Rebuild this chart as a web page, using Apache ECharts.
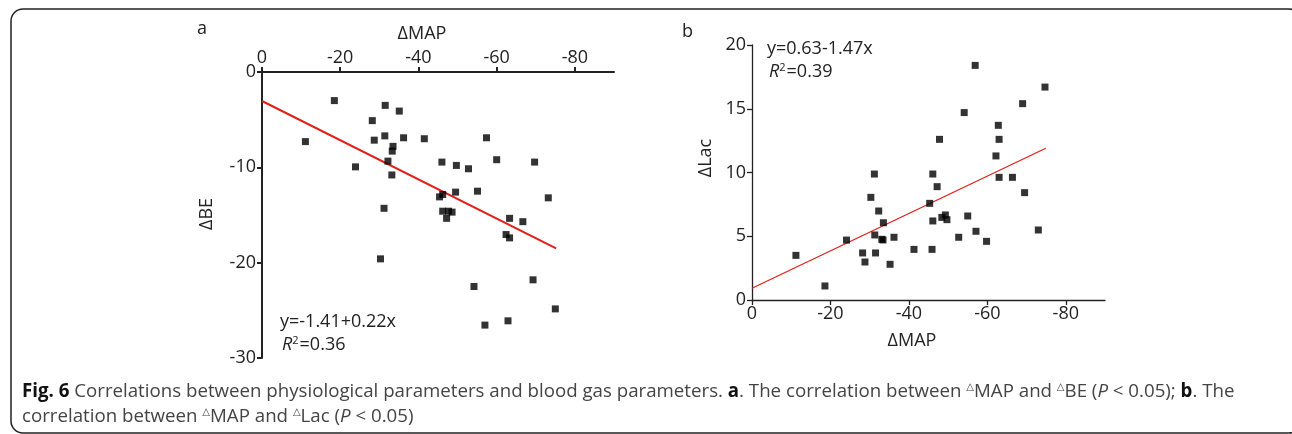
<!DOCTYPE html>
<html>
<head>
<meta charset="utf-8">
<script src="https://cdn.jsdelivr.net/npm/echarts@6/dist/echarts.min.js"></script>
<style>
html,body{margin:0;padding:0;background:#fff;}
#chart{width:1292px;height:434px;}
</style>
</head>
<body>
<div id="chart"></div>
<script>
// Panel a: ΔMAP vs ΔBE
var beX = [-18.5,-31.5,-35.1,-28.2,-11.1,-28.7,-31.4,-36.2,-41.5,-57.4,-33.5,-33.3,-32.2,-46,-49.7,-60,-69.7,-23.9,-33.2,-52.8,-31.2,-45.4,-46.2,-49.5,-55.1,-73.2,-46.2,-47.7,-48.6,-47.2,-63.3,-66.7,-62.4,-63.3,-30.3,-69.3,-54.2,-75,-57,-62.9];
var beY = [-3.0,-3.5,-4.1,-5.1,-7.3,-7.15,-6.7,-6.9,-7.0,-6.9,-7.8,-8.3,-9.35,-9.45,-9.8,-9.2,-9.45,-9.95,-10.8,-10.15,-14.3,-13.1,-12.85,-12.6,-12.5,-13.2,-14.6,-14.6,-14.7,-15.35,-15.35,-15.7,-17.05,-17.4,-19.6,-21.8,-22.5,-24.85,-26.55,-26.1];
var fitAX = [0, -75.2];
var fitAY = [-3.04, -18.5];
// Panel b: ΔMAP vs ΔLac
var lacX = [-56.9,-74.7,-69,-54.1,-62.8,-47.8,-63,-62.2,-31.2,-46.1,-63,-66.4,-47.2,-69.5,-30.3,-45.3,-32.3,-49.3,-48.4,-49.7,-46.1,-55,-33.5,-57.1,-73,-31.3,-24.1,-33.1,-33.4,-36.2,-52.7,-59.8,-41.3,-45.9,-28.2,-31.5,-11.2,-28.8,-35.2,-18.6];
var lacY = [18.4,16.7,15.4,14.7,13.7,12.6,12.6,11.3,9.88,9.88,9.62,9.62,8.89,8.42,8.05,7.58,6.98,6.67,6.48,6.3,6.2,6.59,6.06,5.39,5.49,5.1,4.7,4.76,4.71,4.92,4.92,4.6,3.97,3.97,3.69,3.69,3.5,2.98,2.8,1.1];
var fitBX = [0, -74.9];
var fitBY = [0.92, 11.9];
// tick labels
var mapTicks = [0, -20, -40, -60, -80];
var beTicks = [0, -10, -20, -30];
var lacTicks = [0, 5, 10, 15, 20];

function pairs(xs, ys){ return xs.map(function(x,i){return [x, ys[i]];}); }

var FONT = 'Open Sans';
var TXT = '#222';
var CAP = 'Open Sans';
var CS = 18.7;
var chart = echarts.init(document.getElementById('chart'), null, {renderer:'canvas'});

function xAx(gridIndex, pos, width, tickLen, margin){
  return {
    type:'value', gridIndex:gridIndex, position:pos, inverse:true, min:-90, max:0,
    axisLine:{show:true, onZero:false, lineStyle:{color:'#222', width:width}},
    axisTick:{show:true, length:tickLen, customValues:mapTicks, lineStyle:{color:'#222', width:width}},
    axisLabel:{show:true, customValues:mapTicks, margin:margin, color:TXT, fontFamily:FONT, fontSize:18},
    splitLine:{show:false}
  };
}

var option = {
  animation:false,
  backgroundColor:'#fff',
  grid:[
    {left:262, top:72, width:352, height:286},
    {left:752, top:45, width:353, height:255}
  ],
  xAxis:[
    xAx(0,'top',2,5,5),
    xAx(1,'bottom',1.3,5,5)
  ],
  yAxis:[
    {type:'value', gridIndex:0, min:-30, max:0, interval:10,
     axisLine:{show:true, onZero:false, lineStyle:{color:'#222', width:2}},
     axisTick:{show:true, length:5, lineStyle:{color:'#222', width:2}},
     axisLabel:{margin:6, color:TXT, fontFamily:FONT, fontSize:18, customValues:beTicks},
     splitLine:{show:false}},
    {type:'value', gridIndex:1, min:0, max:20, interval:5,
     axisLine:{show:true, onZero:false, lineStyle:{color:'#222', width:1.3}},
     axisTick:{show:true, length:5, lineStyle:{color:'#222', width:1.3}},
     axisLabel:{margin:6, color:TXT, fontFamily:FONT, fontSize:18, customValues:lacTicks},
     splitLine:{show:false}}
  ],
  series:[
    {type:'line', xAxisIndex:0, yAxisIndex:0, data:pairs(fitAX, fitAY), symbol:'none',
     lineStyle:{color:'#e0201c', width:2}, z:2},
    {type:'scatter', xAxisIndex:0, yAxisIndex:0, data:pairs(beX, beY), symbol:'rect', symbolSize:7,
     itemStyle:{color:'#000'}, z:3},
    {type:'line', xAxisIndex:1, yAxisIndex:1, data:pairs(fitBX, fitBY), symbol:'none',
     lineStyle:{color:'#e0201c', width:1.3}, z:2},
    {type:'scatter', xAxisIndex:1, yAxisIndex:1, data:pairs(lacX, lacY), symbol:'rect', symbolSize:7,
     itemStyle:{color:'#000'}, z:3}
  ],
  graphic:[
    {type:'rect', shape:{x:11, y:9, width:1290, height:424, r:12}, silent:true,
     style:{fill:null, stroke:'#222', lineWidth:1.5}},
    {type:'text', left:197, top:20, style:{text:'a', font:'18px "Open Sans"', fill:TXT}},
    {type:'text', left:682, top:23, style:{text:'b', font:'18px "Open Sans"', fill:TXT}},
    {type:'text', x:422, y:34, style:{text:'ΔMAP', font:'18px "Open Sans"', fill:TXT, align:'center', verticalAlign:'middle'}},
    {type:'text', x:912, y:341, style:{text:'ΔMAP', font:'18px "Open Sans"', fill:TXT, align:'center', verticalAlign:'middle'}},
    {type:'text', x:207, y:214, rotation:Math.PI/2, style:{text:'ΔBE', font:'18px "Open Sans"', fill:TXT, align:'center', verticalAlign:'middle'}},
    {type:'text', x:706, y:158, rotation:Math.PI/2, style:{text:'ΔLac', font:'18px "Open Sans"', fill:TXT, align:'center', verticalAlign:'middle'}},
    {type:'text', x:280, y:322, style:{text:'y=-1.41+0.22x', font:'18px "Open Sans"', fill:TXT, verticalAlign:'middle'}},
    {type:'text', x:282, y:345, style:{text:'{i|R}{s|2}=0.36', fill:TXT, verticalAlign:'middle',
      rich:{i:{fontFamily:FONT, fontSize:18, fontStyle:'italic', fill:TXT}, s:{fontFamily:FONT, fontSize:11, verticalAlign:'top', fill:TXT, padding:[0,1,8,0]}}, font:'18px "Open Sans"'}},
    {type:'text', x:767, y:49, style:{text:'y=0.63-1.47x', font:'18px "Open Sans"', fill:TXT, verticalAlign:'middle'}},
    {type:'text', x:769, y:72, style:{text:'{i|R}{s|2}=0.39', fill:TXT, verticalAlign:'middle',
      rich:{i:{fontFamily:FONT, fontSize:18, fontStyle:'italic', fill:TXT}, s:{fontFamily:FONT, fontSize:11, verticalAlign:'top', fill:TXT, padding:[0,1,8,0]}}, font:'18px "Open Sans"'}},
    {type:'text', x:22, y:392, style:{
      text:'{b|Fig. 6} Correlations between physiological parameters and blood gas parameters. {b|a}. The correlation between {t|△}MAP and {t|△}BE ({i|P} < 0.05); {b|b}. The',
      font:CS+'px "Open Sans"', fill:'#444', verticalAlign:'middle',
      rich:{b:{fontFamily:CAP, fontSize:CS, fontWeight:'bold', fill:'#111'},
            i:{fontFamily:CAP, fontSize:CS, fontStyle:'italic', fill:'#444'},
            t:{fontFamily:'DejaVu Sans', fontSize:10, fill:'#444', verticalAlign:'top', padding:[0,0,7,0]}}}},
    {type:'text', x:22, y:417, style:{
      text:'correlation between {t|△}MAP and {t|△}Lac ({i|P} < 0.05)',
      font:CS+'px "Open Sans"', fill:'#444', verticalAlign:'middle',
      rich:{i:{fontFamily:CAP, fontSize:CS, fontStyle:'italic', fill:'#444'},
            t:{fontFamily:'DejaVu Sans', fontSize:10, fill:'#444', verticalAlign:'top', padding:[0,0,7,0]}}}}
  ]
};
chart.setOption(option);
</script>
</body>
</html>
